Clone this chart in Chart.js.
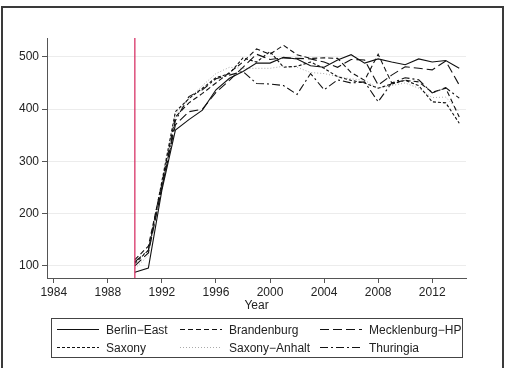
<!DOCTYPE html>
<html>
<head>
<meta charset="utf-8">
<script src="https://cdn.jsdelivr.net/npm/chart.js@4/dist/chart.umd.min.js"></script>
<style>
  body { margin: 0; background: #fff; }
  #wrap { position: relative; width: 512px; height: 368px; overflow: hidden; }
  #frame { position: absolute; left: 1px; top: 6px; width: 503px; height: 380px;
           border: 2px solid #3a3a3a; border-bottom: none; box-sizing: border-box; pointer-events: none; }
</style>
</head>
<body>
<div id="wrap">
  <canvas id="chart" width="512" height="368"></canvas>
  <div id="frame"></div>
</div>
<script>
// data
const years = [1990,1991,1992,1993,1994,1995,1996,1997,1998,1999,2000,2001,2002,2003,2004,2005,2006,2007,2008,2009,2010,2011,2012,2013,2014]
const berlinEast   = [88, 96, 245, 360, 380, 398, 437, 459, 472, 488, 488, 499, 496, 483, 480, 494, 504, 488, 496, 490, 485, 496, 490, 493, 478]
const brandenburg  = [112, 138, 258, 385, 412, 430, 450, 470, 490, 515, 505, 522, 504, 497, 498, 497, 470, 455, 505, 450, 455, 452, 432, 440, 385]
const mecklenburg  = [100, 125, 250, 370, 395, 400, 432, 455, 480, 505, 495, 498, 497, 496, 490, 480, 495, 494, 446, 465, 481, 478, 475, 492, 446]
const saxony       = [105, 130, 262, 395, 420, 440, 460, 468, 498, 490, 510, 480, 482, 490, 478, 462, 455, 450, 440, 448, 455, 445, 414, 412, 373]
const saxonyAnhalt = [95, 120, 255, 390, 420, 445, 468, 480, 478, 478, 478, 482, 480, 470, 468, 462, 458, 455, 440, 445, 450, 440, 422, 423, 395]
const thuringia    = [108, 130, 250, 378, 424, 437, 458, 465, 472, 449, 448, 445, 428, 468, 437, 456, 450, 452, 414, 450, 460, 456, 431, 441, 421]
const eventYear = 1990
const xTicks = [1984, 1988, 1992, 1996, 2000, 2004, 2008, 2012]
const yTicks = [100, 200, 300, 400, 500]

const seriesNames = ['Berlin−East', 'Brandenburg', 'Mecklenburg−HP', 'Saxony', 'Saxony−Anhalt', 'Thuringia']
const seriesValues = [berlinEast, brandenburg, mecklenburg, saxony, saxonyAnhalt, thuringia]
const dashes = [[], [5, 3], [9, 4], [3, 2], [1, 2], [8, 3, 2, 3]]
const colors = ['#111', '#111', '#111', '#111', '#aaa', '#111']

const FONT = "'Liberation Sans', Arial, sans-serif"
const yMin = 77, yMax = 536

const datasets = seriesValues.map((vals, i) => ({
  label: seriesNames[i],
  data: years.map((yr, j) => ({ x: yr, y: vals[j] })),
  borderColor: colors[i],
  borderWidth: i == 4 ? 1 : 1.1,
  borderDash: dashes[i],
  pointRadius: 0,
  tension: 0,
  fill: false
}))
datasets.unshift({
  label: 'event',
  data: [{ x: eventYear, y: yMin }, { x: eventYear, y: yMax }],
  borderColor: '#d4235a',
  borderWidth: 1.2,
  pointRadius: 0
})

// boxed legend in three columns, like the original
const boxLegend = {
  id: 'boxLegend',
  afterDraw(chart) {
    const ctx = chart.ctx
    ctx.save()
    ctx.strokeStyle = '#444'
    ctx.lineWidth = 1
    ctx.setLineDash([])
    ctx.strokeRect(51.5, 318.5, 411, 39)
    const cols = [57, 180, 320]
    const rows = [329.5, 347.5]
    ctx.font = '12px ' + FONT
    ctx.textBaseline = 'middle'
    seriesNames.forEach((name, i) => {
      const cx = cols[i % 3], cy = rows[Math.floor(i / 3)]
      ctx.strokeStyle = colors[i]
      ctx.lineWidth = 1.1
      ctx.setLineDash(dashes[i])
      ctx.beginPath()
      ctx.moveTo(cx, cy)
      ctx.lineTo(cx + 42, cy)
      ctx.stroke()
      ctx.setLineDash([])
      ctx.fillStyle = '#222'
      ctx.fillText(name, cx + 49, cy + 1)
    })
    ctx.restore()
  }
}

new Chart(document.getElementById('chart'), {
  type: 'line',
  data: { datasets: datasets },
  plugins: [boxLegend],
  options: {
    responsive: false,
    animation: false,
    layout: { padding: { left: 0, top: 38, right: 46, bottom: 55 } },
    plugins: { legend: { display: false }, tooltip: { enabled: false } },
    scales: {
      x: {
        type: 'linear',
        min: 1983.5,
        max: 2014.5,
        afterBuildTicks: s => { s.ticks = xTicks.map(v => ({ value: v })) },
        afterFit: s => { s.height = 35 },
        grid: { drawOnChartArea: false, drawTicks: true, tickLength: 5, tickColor: '#555' },
        border: { display: true, color: '#555', width: 1 },
        ticks: { color: '#222', font: { family: FONT, size: 12 }, padding: 2, maxRotation: 0, callback: v => String(v) },
        title: { display: true, text: 'Year', color: '#222', font: { family: FONT, size: 12 }, padding: { top: 2, bottom: 0 } }
      },
      y: {
        min: yMin,
        max: yMax,
        afterBuildTicks: s => { s.ticks = yTicks.map(v => ({ value: v })) },
        afterFit: s => { s.width = 47 },
        grid: { color: '#ececec', lineWidth: 1, drawTicks: true, tickLength: 5, tickColor: '#555' },
        border: { display: true, color: '#555', width: 1 },
        ticks: { color: '#222', font: { family: FONT, size: 12 }, padding: 3 }
      }
    }
  }
})
</script>
</body>
</html>
